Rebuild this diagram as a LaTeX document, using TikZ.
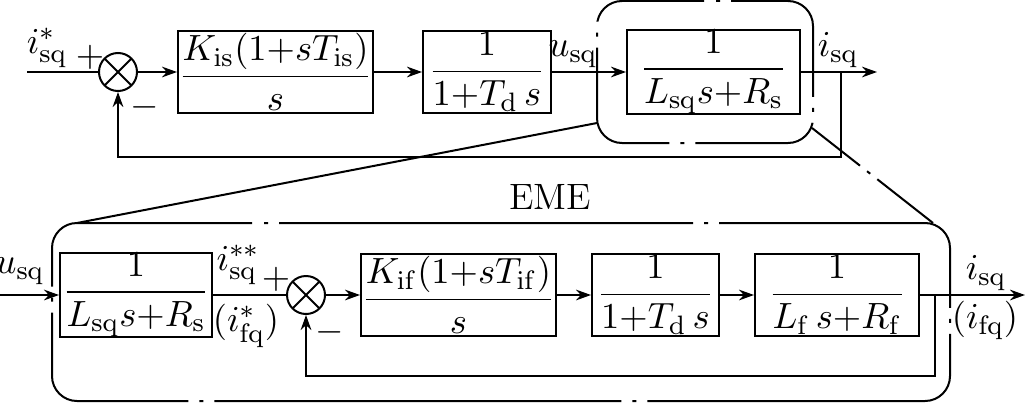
\documentclass[tikz,border=0pt]{standalone}
\usepackage{tikz}
\usetikzlibrary{arrows.meta}
\usepackage{amsmath}

\tikzset{
    block/.style={draw,line width=0.6pt,minimum width=#1*0.3pt,minimum height=24.6pt,inner sep=0pt},
    sumpt/.style={circle,draw,line width=0.6pt,minimum size=11.4pt,inner sep=0pt,
        path picture={\draw[line width=0.6pt] (path picture bounding box.north west) -- (path picture bounding box.south east)
                      (path picture bounding box.north east) -- (path picture bounding box.south west);}},
    sig/.style={line width=0.6pt,-{Stealth[length=4.5pt,width=3.2pt]}},
    wire/.style={line width=0.6pt},
    lab/.style={inner sep=0.5pt},
    emebox/.style={line width=0.6pt,rounded corners=7.5pt},
}

\begin{document}
\begin{tikzpicture}[x=0.3pt,y=-0.3pt,font=\fontsize{11}{13}\selectfont]
    \pgfmathsetmacro{\toprow}{72}
    \pgfmathsetmacro{\botrow}{295}
    \useasboundingbox (0,0) rectangle (1026,403);

    % current loop of the stator
    \coordinate (in1) at (27,\toprow);
    \node[sumpt] (s1) at (118,\toprow) {};
    \node[block=195] (pi1) at (275.5,\toprow) {$\displaystyle\frac{K_{\mathrm{is}}(1{+}sT_{\mathrm{is}})}{s}$};
    \node[block=128] (td1) at (487,\toprow) {$\displaystyle\frac{1}{1{+}T_{\mathrm{d}}\,s}$};
    \node[block=173] (ls1) at (713.5,\toprow) {$\displaystyle\frac{1}{L_{\mathrm{sq}}s{+}R_{\mathrm{s}}}$};
    \coordinate (br1) at (841,\toprow);
    \coordinate (fb1) at (841,157);
    \coordinate (out1) at (877,\toprow);
    \draw[wire] (in1) -- (s1);
    \draw[sig] (s1) -- (pi1);
    \draw[sig] (pi1) -- (td1);
    \draw[sig] (td1) -- (ls1);
    \draw[sig] (ls1) -- (out1);
    \draw[sig] (br1) -- (fb1) -| (s1);
    \node[lab] (isref) at (47,48) {$i^{*}_{\mathrm{sq}}$};
    \node[lab] (plus1) at (90,57) {$+$};
    \node[lab] (minus1) at (145,107) {$-$};
    \node[lab] (usq1) at (573,54) {$u_{\mathrm{sq}}$};
    \node[lab] (isq1) at (838,50) {$i_{\mathrm{sq}}$};

    % emulated machine
    \coordinate (in2) at (0,\botrow);
    \node[block=152] (ls2) at (136,\botrow) {$\displaystyle\frac{1}{L_{\mathrm{sq}}s{+}R_{\mathrm{s}}}$};
    \node[sumpt] (s2) at (306,\botrow) {};
    \node[block=195] (pi2) at (458.5,\botrow) {$\displaystyle\frac{K_{\mathrm{if}}(1{+}sT_{\mathrm{if}})}{s}$};
    \node[block=127] (td2) at (655.5,\botrow) {$\displaystyle\frac{1}{1{+}T_{\mathrm{d}}\,s}$};
    \node[block=164] (lf2) at (837,\botrow) {$\displaystyle\frac{1}{L_{\mathrm{f}}\,s{+}R_{\mathrm{f}}}$};
    \coordinate (br2) at (935,\botrow);
    \coordinate (fb2) at (935,376);
    \coordinate (out2) at (1025,\botrow);
    \draw[sig] (in2) -- (ls2);
    \draw[wire] (ls2) -- (s2);
    \draw[sig] (s2) -- (pi2);
    \draw[sig] (pi2) -- (td2);
    \draw[sig] (td2) -- (lf2);
    \draw[sig] (lf2) -- (out2);
    \draw[sig] (br2) -- (fb2) -| (s2);
    \node[lab] (usq2) at (20,271) {$u_{\mathrm{sq}}$};
    \node[lab] (isref2) at (238,265) {$i^{**}_{\mathrm{sq}}$};
    \node[lab] (plus2) at (276,279) {$+$};
    \node[lab] (ifref) at (246,326) {$(i^{*}_{\mathrm{fq}})$};
    \node[lab] (minus2) at (330,332) {$-$};
    \node[lab] (isq2) at (986,273) {$i_{\mathrm{sq}}$};
    \node[lab] (ifq) at (985,320) {$(i_{\mathrm{fq}})$};

    % dash-dot frames and zoom lines
    \draw[emebox,dash pattern=on 0pt off 3.3pt on 1.2pt off 3.3pt on 50.1pt off 3.3pt on 1.2pt off 3.3pt on 38.1pt
          off 3.3pt on 1.2pt off 3.3pt on 47.1pt off 3.3pt on 1.2pt off 3.3pt on 35.1pt off 3.3pt]
        (680,1) -- (813,1) -- (813,143) -- (597,143) -- (597,1) -- cycle;
    \draw[emebox,dash pattern=on 0pt off 3.3pt on 1.2pt off 3.3pt on 124.2pt off 3.3pt on 1.2pt off 3.3pt on 91.5pt
          off 3.3pt on 1.2pt off 3.3pt on 107.7pt off 3.3pt on 1.2pt off 3.3pt on 122.1pt
          off 3.3pt on 1.2pt off 3.3pt on 64.2pt off 3.3pt on 1.2pt off 3.3pt on 75.9pt off 3.3pt]
        (228,223) -- (950,223) -- (950,401) -- (52,401) -- (52,223) -- cycle;
    \node[lab] (eme) at (550,197) {EME};
    \coordinate (zl1) at (597,123);
    \coordinate (zl2) at (77,223);
    \coordinate (zr1) at (812,128);
    \coordinate (zr2) at (933,223);
    \draw[wire] (zl1) -- (zl2);
    \draw[wire,dash pattern=on 18.3pt off 2.7pt on 1.2pt off 2.7pt on 60pt] (zr1) -- (zr2);
\end{tikzpicture}
\end{document}
